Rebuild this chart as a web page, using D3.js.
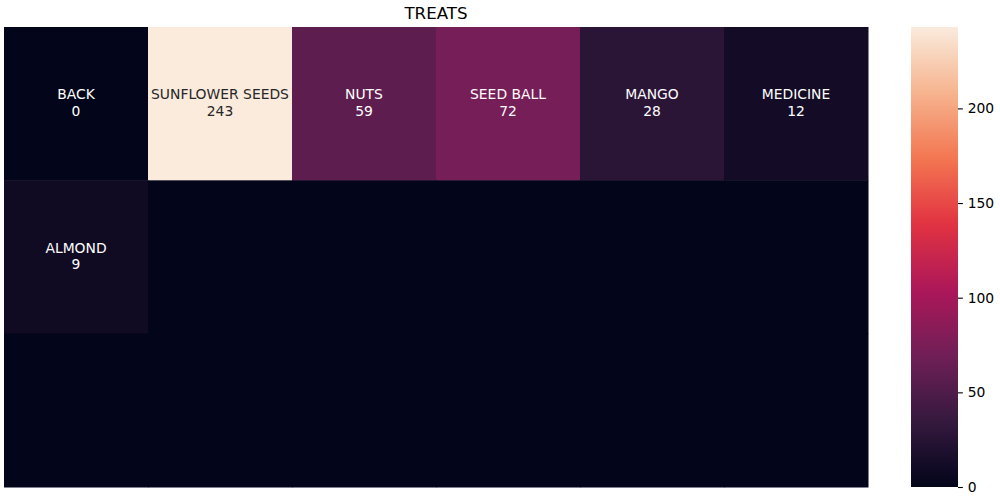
<!DOCTYPE html>
<html>
<head>
<meta charset="utf-8">
<script src="https://cdn.jsdelivr.net/npm/d3@7"></script>
<style>
body { margin: 0; background: #fff; }
svg { display: block; font-family: "DejaVu Sans", sans-serif; }
</style>
</head>
<body>
<svg id="chart" width="1000" height="500"></svg>
<script>
// Data
const title = "TREATS";
const treatNames = ["BACK", "SUNFLOWER SEEDS", "NUTS", "SEED BALL", "MANGO", "MEDICINE", "ALMOND"];
const treatCounts = [0, 243, 59, 72, 28, 12, 9];
const nCols = 6;
const nRows = 3;
const colorbarTicks = [0, 50, 100, 150, 200];
// rocket colormap stops
const rocketStops = [0, 1/7, 2/7, 3/7, 4/7, 5/7, 6/7, 1];
const rocketColors = ["#03051a", "#35193e", "#701f57", "#ad1759", "#e13342", "#f37651", "#f6b48f", "#faebdd"];

const svg = d3.select("#chart");
const pLeft = 4, pRight = 868, pTop = 27, pBottom = 487;

// build cells (padded with zeros)
const cells = [];
for (let r = 0; r < nRows; r++) {
  for (let c = 0; c < nCols; c++) {
    const i = r * nCols + c;
    cells.push({ r, c, name: i < treatNames.length ? treatNames[i] : null,
                 value: i < treatCounts.length ? treatCounts[i] : 0 });
  }
}

const vmax = d3.max(treatCounts), vmin = 0;
const x = d3.scaleBand().domain(d3.range(nCols)).range([pLeft, pRight]).padding(0);
const y = d3.scaleBand().domain(d3.range(nRows)).range([pTop, pBottom]).padding(0);
const rocket = d3.scaleLinear().domain(rocketStops).range(rocketColors).interpolate(d3.interpolateRgb);
const color = v => rocket((v - vmin) / (vmax - vmin));

svg.append("g").selectAll("rect").data(cells).join("rect")
  .attr("x", d => x(d.c)).attr("y", d => y(d.r))
  .attr("width", x.bandwidth() + 0.5).attr("height", y.bandwidth() + 0.5)
  .attr("fill", d => color(d.value));

const ann = svg.append("g").selectAll("text").data(cells.filter(d => d.name !== null)).join("text")
  .attr("x", d => x(d.c) + x.bandwidth() / 2)
  .attr("y", d => y(d.r) + y.bandwidth() / 2)
  .attr("text-anchor", "middle")
  .attr("font-size", "13.89px")
  .attr("fill", d => d3.lab(color(d.value)).l > 60 ? "#262626" : "#ffffff");
ann.append("tspan").attr("x", d => x(d.c) + x.bandwidth() / 2).attr("dy", "-4.3").text(d => d.name);
ann.append("tspan").attr("x", d => x(d.c) + x.bandwidth() / 2).attr("dy", "16.2").text(d => d.value);

// title
svg.append("text").attr("x", (pLeft + pRight) / 2).attr("y", 18.5)
  .attr("text-anchor", "middle").attr("font-size", "16.67px").attr("fill", "#000").text(title);

// colorbar
const cbLeft = 911, cbRight = 958;
const defs = svg.append("defs");
const grad = defs.append("linearGradient").attr("id", "rocketGrad")
  .attr("x1", "0").attr("y1", "1").attr("x2", "0").attr("y2", "0");
d3.range(0, 1.0001, 1/64).forEach(t => {
  grad.append("stop").attr("offset", t).attr("stop-color", rocket(t));
});
svg.append("rect").attr("x", cbLeft).attr("y", pTop).attr("width", cbRight - cbLeft).attr("height", pBottom - pTop)
  .attr("fill", "url(#rocketGrad)");
const cy = d3.scaleLinear().domain([vmin, vmax]).range([pBottom, pTop]);
const cbAxis = d3.axisRight(cy).tickValues(colorbarTicks).tickSize(4.86).tickPadding(4.86);
const ag = svg.append("g").attr("transform", `translate(${cbRight},0)`).call(cbAxis);
ag.select(".domain").remove();
ag.selectAll("text").attr("font-size", "13.89px").attr("font-family", "DejaVu Sans").attr("fill", "#000");
ag.selectAll("line").attr("stroke", "#000").attr("stroke-width", 1.1);
</script>
</body>
</html>
